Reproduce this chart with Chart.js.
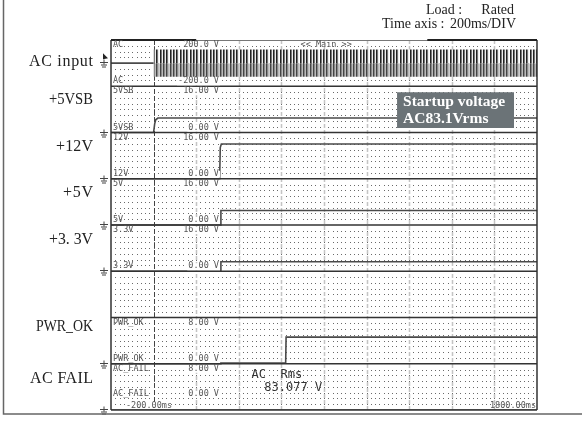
<!DOCTYPE html>
<html>
<head>
<meta charset="utf-8">
<script src="https://cdn.jsdelivr.net/npm/chart.js@4.4.1/dist/chart.umd.min.js"></script>
<style>
  html, body { margin: 0; padding: 0; background: #fff; }
  canvas { display: block; }
</style>
</head>
<body>
<canvas id="scope" width="582" height="423"></canvas>
<script>
// ---- time base (ms) ----
const timeMin = -200;
const timeMax = 1800;
const timeDiv = 200;

// ---- channels, top to bottom ----
const channelIds    = ['AC', '5VSB', '12V', '5V', '3.3V', 'SPARE', 'PWR_OK', 'AC_FAIL'];
const channelTags   = ['AC', '5VSB', '12V', '5V', '3.3V', '', 'PWR_OK', 'AC_FAIL'];
const channelTitles = ['AC input', '+5VSB', '+12V', '+5V', '+3. 3V', '', 'PWR_OK', 'AC FAIL'];
const rangeHigh     = [200, 16, 16, 16, 16, 1, 8, 8];
const rangeLow      = [-200, 0, 0, 0, 0, 0, 0, 0];
const highLabels    = ['200.0 V', '16.00 V', '16.00 V', '16.00 V', '16.00 V', '', '8.00 V', '8.00 V'];
const lowLabels     = ['-200.0 V', '0.00 V', '0.00 V', '0.00 V', '0.00 V', '', '0.00 V', '0.00 V'];

// ---- measured traces ----
const acRms = 83.077;                 // V rms, from the measurement readout
const acOnTime = [0, 1800];           // AC applied from t = 0
const acOffTime = [-200, 0];
const acOffVolt = [0, 0];

const sbTime  = [-200, 0, 5, 10, 20, 1800];
const sbVolt  = [0, 0, 3.0, 4.4, 5.0, 5.0];
const v12Time = [-200, 310, 313, 318, 1800];
const v12Volt = [0, 0, 10.8, 12.0, 12.0];
const v5Time  = [-200, 313, 316, 1800];
const v5Volt  = [0, 0, 5.0, 5.0];
const v33Time = [-200, 313, 316, 1800];
const v33Volt = [0, 0, 3.3, 3.3];
const pgTime  = [-200, 315, 316, 620, 622, 1800];
const pgVolt  = [0, 0, 0.12, 0.12, 4.6, 4.6];
const afTime  = [-200, 1800];
const afVolt  = [0, 0];

// ---- text ----
const headerKeys = ['Load :', 'Time axis :'];
const headerValues = ['Rated', '200ms/DIV'];
const noteLines = ['Startup voltage', 'AC83.1Vrms'];
const readoutLines = ['AC  Rms', '83.077 V'];
const startLabel = '-200.00ms';
const endLabel = '1800.00ms';
const modeLabel = '<< Main >>';

// ---- drawing style ----
const BAND_ROWS = 8;
const N = channelIds.length;
const titleStyle = {            // [vertical offset in band, drawn width]
  'AC input': [22, 64], '+5VSB': [14, 44], '+12V': [14, 37], '+5V': [14, 30],
  '+3. 3V': [15, 44], 'PWR_OK': [9, 57], 'AC FAIL': [15, 63]
};

// each channel owns one horizontal band; its axis is widened so that
// [low, high] lands exactly inside that band of the shared plot area
function bandScale(k) {
  const span = rangeHigh[k] - rangeLow[k];
  return {
    type: 'linear', axis: 'y', position: 'left', display: false,
    min: rangeLow[k] - (N - 1 - k) * span,
    max: rangeHigh[k] + k * span
  };
}

const pts = (xs, ys) => xs.map((x, i) => ({ x, y: ys[i] }));

const ctx0 = document.getElementById('scope').getContext('2d');
function stripePattern(cols) {
  const c = document.createElement('canvas');
  c.width = cols.length; c.height = 1;
  const g = c.getContext('2d');
  cols.forEach((col, i) => { g.fillStyle = col; g.fillRect(i, 0, 1, 1); });
  return ctx0.createPattern(c, 'repeat');
}
const upperFill = stripePattern(['#222', '#777', '#eee', '#222', '#777', '#eee', '#222', '#777', '#eee', '#fff']);
const lowerFill = stripePattern(['#444', '#888', '#bbb', '#444', '#888', '#bbb', '#444', '#888', '#bbb', '#ccc']);

const acPeak = acRms * Math.SQRT2;
const trace = '#4a4a4a';

const datasets = [
  { data: pts(acOnTime, acOnTime.map(() => acPeak)), yAxisID: 'AC', fill: 'origin',
    backgroundColor: upperFill, borderWidth: 0, borderColor: 'transparent' },
  { data: pts(acOnTime, acOnTime.map(() => -acPeak)), yAxisID: 'AC', fill: 'origin',
    backgroundColor: lowerFill, borderWidth: 0, borderColor: 'transparent' },
  { data: pts(acOffTime, acOffVolt), yAxisID: 'AC' },
  { data: pts(sbTime, sbVolt), yAxisID: '5VSB' },
  { data: pts(v12Time, v12Volt), yAxisID: '12V' },
  { data: pts(v5Time, v5Volt), yAxisID: '5V' },
  { data: pts(v33Time, v33Volt), yAxisID: '3.3V' },
  { data: pts(pgTime, pgVolt), yAxisID: 'PWR_OK' },
  { data: pts(afTime, afVolt), yAxisID: 'AC_FAIL' }
].map(d => Object.assign({ borderColor: trace, borderWidth: 1.6, pointRadius: 0, tension: 0, fill: false }, d));

const scales = { x: { type: 'linear', axis: 'x', position: 'bottom', display: false, min: timeMin, max: timeMax } };
channelIds.forEach((id, k) => { scales[id] = bandScale(k); });

function bandTop(chart, k) {
  const a = chart.chartArea;
  return a.top + (a.bottom - a.top) * k / N;
}

function groundMark(ctx, gx, y) {
  ctx.beginPath();
  ctx.moveTo(gx, y - 4); ctx.lineTo(gx, y + 1);
  ctx.moveTo(gx - 4, y - 1); ctx.lineTo(gx + 4, y - 1);
  ctx.moveTo(gx - 3, y + 1.5); ctx.lineTo(gx + 3, y + 1.5);
  ctx.moveTo(gx - 2, y + 3.5); ctx.lineTo(gx + 2, y + 3.5);
  ctx.stroke();
}

// text squeezed or spread to a given width
function fitText(ctx, text, right, y, width) {
  ctx.letterSpacing = '0px';
  const natural = ctx.measureText(text).width;
  if (natural > width) {
    ctx.fillText(text, right, y, width);
  } else {
    const sp = (width - natural) / Math.max(1, text.length - 1);
    ctx.letterSpacing = sp.toFixed(2) + 'px';
    ctx.fillText(text, right + sp, y);
    ctx.letterSpacing = '0px';
  }
}

const screenPlugin = {
  id: 'screen',
  beforeDatasetsDraw(chart) {
    const { ctx, chartArea: a, scales: s } = chart;
    const bh = (a.bottom - a.top) / N;
    ctx.save();
    // fine dotted rows
    ctx.fillStyle = '#6a6a6a';
    for (let k = 0; k < N; k++) {
      for (let r = 1; r < BAND_ROWS; r++) {
        const y = Math.round(bandTop(chart, k) + r * bh / BAND_ROWS);
        for (let t = timeMin + timeDiv / 10; t < timeMax; t += timeDiv / 10) {
          ctx.fillRect(Math.round(s.x.getPixelForValue(t)), y, 1, 1);
        }
      }
    }
    // division lines
    for (let t = timeMin + timeDiv; t < timeMax; t += timeDiv) {
      const x = Math.round(s.x.getPixelForValue(t)) + 0.5;
      ctx.beginPath();
      if (t === 0) { ctx.strokeStyle = '#444'; ctx.lineWidth = 1; ctx.setLineDash([5, 2]); }
      else { ctx.strokeStyle = '#c4c4c4'; ctx.lineWidth = 1.5; ctx.setLineDash([4, 2]); }
      ctx.moveTo(x, a.top); ctx.lineTo(x, a.bottom); ctx.stroke();
    }
    ctx.setLineDash([]);
    ctx.restore();
  },
  afterDatasetsDraw(chart) {
    const { ctx, chartArea: a, scales: s } = chart;
    const bh = (a.bottom - a.top) / N;
    ctx.save();

    // band separators and screen frame
    ctx.strokeStyle = '#333';
    ctx.lineWidth = 1.5;
    for (let k = 1; k <= N; k++) {
      const y = bandTop(chart, k);
      ctx.beginPath(); ctx.moveTo(a.left, y); ctx.lineTo(a.right, y); ctx.stroke();
    }
    ctx.beginPath();
    ctx.moveTo(a.left, a.top); ctx.lineTo(a.left, a.bottom);
    ctx.moveTo(a.right, a.top); ctx.lineTo(a.right, a.bottom);
    ctx.stroke();
    ctx.lineWidth = 1;
    ctx.strokeStyle = '#777';
    ctx.beginPath(); ctx.moveTo(a.left, a.top + 0.5); ctx.lineTo(a.right, a.top + 0.5); ctx.stroke();
    ctx.lineWidth = 2;
    ctx.strokeStyle = '#222';
    ctx.beginPath();
    ctx.moveTo(a.left, a.top); ctx.lineTo(s.x.getPixelForValue(200), a.top);
    ctx.moveTo(s.x.getPixelForValue(1285), a.top); ctx.lineTo(a.right, a.top);
    ctx.stroke();

    // channel tags and range labels
    ctx.font = '8.5px "DejaVu Sans Mono"';
    ctx.textBaseline = 'middle';
    const labelRight = s.x.getPixelForValue(307);
    for (let k = 0; k < N; k++) {
      if (!channelTags[k]) continue;
      const top = bandTop(chart, k), bottom = top + bh;
      const lowRow = k === N - 1 ? bottom - 16 : bottom - 5;
      const rows = [[top + 5, highLabels[k]], [lowRow, lowLabels[k]]];
      rows.forEach(([y, val]) => {
        ctx.fillStyle = '#555';
        ctx.textAlign = 'left';
        ctx.fillText(channelTags[k], a.left + 2, y);
        const w = ctx.measureText(val).width;
        ctx.fillStyle = '#fff';
        ctx.fillRect(labelRight - w - 1, y - 3, w + 2, 7);
        ctx.fillStyle = '#555';
        ctx.textAlign = 'right';
        ctx.fillText(val, labelRight, y);
      });
    }
    ctx.textAlign = 'left';
    ctx.fillStyle = '#555';
    ctx.fillText(modeLabel, s.x.getPixelForValue(690), a.top + 5);

    // time stamps
    ctx.font = '8.5px "DejaVu Sans Mono"';
    ctx.fillStyle = '#fff';
    ctx.fillRect(a.left + 14, a.bottom - 8, 46, 7);
    ctx.fillStyle = '#555';
    ctx.fillText(startLabel, a.left + 15, a.bottom - 4);
    ctx.textAlign = 'right';
    ctx.fillText(endLabel, a.right - 1, a.bottom - 4);

    // rms readout
    ctx.textAlign = 'left';
    ctx.font = '12px "DejaVu Sans Mono"';
    ctx.fillStyle = '#333';
    ctx.fillText(readoutLines[0], s.x.getPixelForValue(460), bandTop(chart, 7) + 11);
    ctx.fillText(readoutLines[1], s.x.getPixelForValue(520), bandTop(chart, 7) + 24);

    // ground markers at each channel's 0 V
    ctx.strokeStyle = '#444';
    ctx.lineWidth = 1;
    const gx = a.left - 7;
    channelIds.forEach((id, k) => {
      if (!channelTags[k]) return;
      groundMark(ctx, gx, Math.round(s[id].getPixelForValue(0)) + 0.5);
    });
    // trigger pointer on the AC channel
    {
      const y = s.AC.getPixelForValue(0);
      ctx.fillStyle = '#222';
      ctx.beginPath();
      ctx.moveTo(gx - 1, y - 10); ctx.lineTo(gx + 4, y - 5); ctx.lineTo(gx - 1, y - 4);
      ctx.closePath(); ctx.fill();
    }

    // channel titles
    ctx.font = '16px "Liberation Serif"';
    ctx.fillStyle = '#222';
    ctx.textAlign = 'right';
    ctx.textBaseline = 'middle';
    channelTitles.forEach((t, k) => {
      if (!t) return;
      const [dy, w] = titleStyle[t];
      fitText(ctx, t, 93, bandTop(chart, k) + dy, w);
    });

    // note box over the 5VSB band
    const bx0 = s.x.getPixelForValue(1143), bx1 = s.x.getPixelForValue(1692);
    const by0 = bandTop(chart, 1) + 6, by1 = bandTop(chart, 2) - 4.5;
    ctx.fillStyle = '#6b7377';
    ctx.fillRect(bx0, by0, bx1 - bx0, by1 - by0);
    ctx.fillStyle = '#fff';
    ctx.font = 'bold 15.5px "Liberation Serif"';
    ctx.textAlign = 'left';
    ctx.fillText(noteLines[0], bx0 + 6, by0 + 10);
    ctx.fillText(noteLines[1], bx0 + 6, by0 + 27);

    // header
    ctx.fillStyle = '#222';
    ctx.font = '14px "Liberation Serif"';
    ctx.textAlign = 'left';
    ctx.fillText(headerKeys[0], 426, 10);
    ctx.fillText(headerKeys[1], 382, 24);
    ctx.textAlign = 'right';
    ctx.fillText(headerValues[0], 514, 10);
    ctx.fillText(headerValues[1], 516, 24);

    // page frame
    ctx.strokeStyle = '#666';
    ctx.lineWidth = 1.5;
    ctx.beginPath();
    ctx.moveTo(3.5, 0); ctx.lineTo(3.5, 414); ctx.lineTo(582, 414);
    ctx.stroke();
    ctx.restore();
  }
};

new Chart(ctx0, {
  type: 'line',
  data: { datasets },
  options: {
    responsive: false,
    animation: false,
    events: [],
    layout: { padding: { left: 111, right: 45, top: 40, bottom: 13 } },
    plugins: { legend: { display: false }, tooltip: { enabled: false }, title: { display: false } },
    scales
  },
  plugins: [screenPlugin]
});
</script>
</body>
</html>
